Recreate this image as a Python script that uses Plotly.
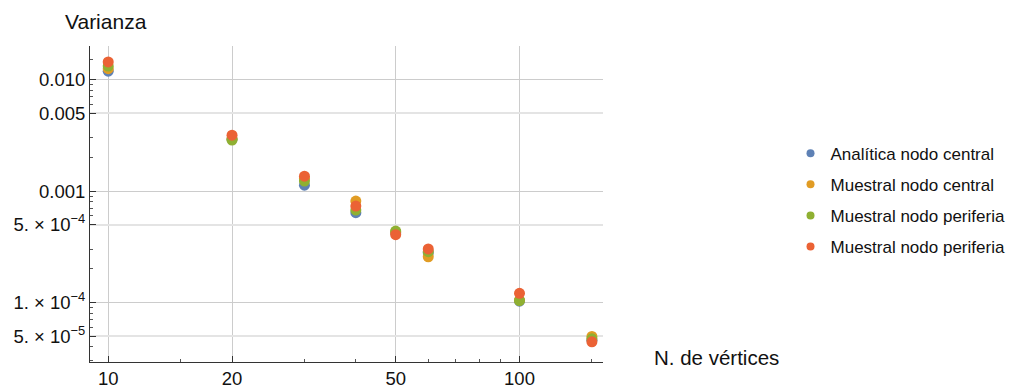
import plotly.graph_objects as go
import numpy as np

vertices = [10, 20, 30, 40, 50, 60, 100, 150]
analitica_central = [0.0119, 0.00292, 0.00113, 0.000640, 0.000420, 0.000280, 0.000103, 4.60e-5]
muestral_central = [0.01253, 0.00295, 0.00129, 0.000813, 0.000430, 0.000257, 0.000105, 4.97e-5]
muestral_periferia_1 = [0.0132, 0.00287, 0.00123, 0.000676, 0.000438, 0.000286, 0.0001043, 4.73e-5]
muestral_periferia_2 = [0.0144, 0.00317, 0.00136, 0.000734, 0.000406, 0.000303, 0.000121, 4.44e-5]

series_names = ["Analítica nodo central", "Muestral nodo central",
                "Muestral nodo periferia", "Muestral nodo periferia"]
series_values = [analitica_central, muestral_central, muestral_periferia_1, muestral_periferia_2]
colors = ["#5E81B5", "#E19C24", "#8FB032", "#EB6235"]

x_tickvals = [10, 20, 50, 100]
x_ticktext = ["10", "20", "50", "100"]
x_minor_ticks = [15, 30, 40, 60, 70, 80, 90, 150]
y_tickvals = [0.01, 0.005, 0.001, 5e-4, 1e-4, 5e-5]
y_ticktext = ["0.010", "0.005", "0.001", "5. × 10<sup>−4</sup>", "1. × 10<sup>−4</sup>", "5. × 10<sup>−5</sup>"]
y_minor_ticks = [0.015, 0.009, 0.008, 0.007, 0.006, 0.003, 0.002,
                 9e-4, 8e-4, 7e-4, 6e-4, 3e-4, 2e-4,
                 9e-5, 8e-5, 7e-5, 6e-5, 4e-5, 3e-5]
y_halfvals = [0.005, 5e-4, 5e-5]

x_range = [9.03, 159.6]
y_range = [2.93e-5, 0.02]

font_family = "Liberation Sans, Arial, sans-serif"

fig = go.Figure()
for name, vals, col in zip(series_names, series_values, colors):
    fig.add_trace(go.Scatter(x=vertices, y=vals, mode="markers", name=name,
                             marker=dict(color=col, size=11, line=dict(width=0)),
                             showlegend=False, yaxis="y"))
for i, (name, col) in enumerate(zip(series_names, colors)):
    fig.add_trace(go.Scatter(x=[None], y=[None], mode="markers", name=name,
                             marker=dict(color=col, size=8), legendgroup=str(i),
                             showlegend=True))

# invisible trace on overlay axis carrying the lighter grid lines at the 5-values
fig.add_trace(go.Scatter(x=[vertices[0]], y=[analitica_central[0]], yaxis="y2",
                         mode="markers", marker=dict(opacity=0),
                         showlegend=False, hoverinfo="skip"))

fig.update_layout(
    width=1008, height=379,
    margin=dict(l=82, r=413, t=38, b=25, autoexpand=False),
    paper_bgcolor="white", plot_bgcolor="white",
    font=dict(family=font_family, size=18, color="#111"),
    xaxis=dict(type="log", range=[np.log10(x_range[0]), np.log10(x_range[1])],
               tickmode="array", tickvals=x_tickvals, ticktext=x_ticktext,
               showline=True, linecolor="#333", linewidth=1, mirror=False,
               ticks="inside", ticklen=6, tickcolor="#333", automargin=False,
               showgrid=True, gridcolor="#cccccc", gridwidth=1, zeroline=False,
               tickfont=dict(size=18.5),
               minor=dict(tickmode="array", tickvals=x_minor_ticks, ticks="inside",
                          ticklen=3, tickcolor="#555", showgrid=False)),
    yaxis=dict(type="log", range=[np.log10(y_range[0]), np.log10(y_range[1])],
               tickmode="array", tickvals=y_tickvals, ticktext=y_ticktext,
               showline=True, linecolor="#333", linewidth=1, mirror=False,
               ticks="inside", ticklen=6, tickcolor="#333", automargin=False,
               showgrid=True, gridcolor="#cccccc", gridwidth=1, zeroline=False,
               tickfont=dict(size=18.5),
               minor=dict(tickmode="array", tickvals=y_minor_ticks, ticks="inside",
                          ticklen=3, tickcolor="#555", showgrid=False)),
    yaxis2=dict(type="log", range=[np.log10(y_range[0]), np.log10(y_range[1])],
                overlaying="y", side="left", tickmode="array", tickvals=y_halfvals,
                showticklabels=False, ticks="", showline=False, automargin=False,
                showgrid=True, gridcolor="#e4e4e4", gridwidth=2, zeroline=False),
    legend=dict(xref="container", yref="container", x=0.7763, xanchor="left",
                y=0.663, yanchor="top",
                font=dict(size=17, color="#111"), tracegroupgap=6,
                bgcolor="rgba(0,0,0,0)"),
    annotations=[
        dict(text="Varianza", xref="paper", yref="paper", x=-0.0526, y=1.076,
             xanchor="left", yanchor="middle", showarrow=False,
             font=dict(size=21)),
        dict(text="N. de vértices", xref="paper", yref="paper", x=1.0955, y=0.0127,
             xanchor="left", yanchor="middle", showarrow=False,
             font=dict(size=20.5)),
    ],
)

fig.write_html("out.html")
